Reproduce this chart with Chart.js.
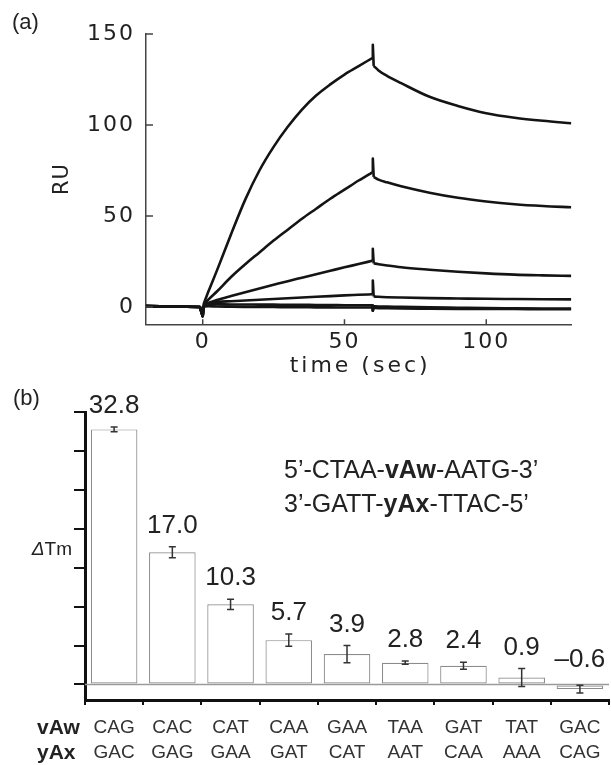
<!DOCTYPE html>
<html>
<head>
<meta charset="utf-8">
<script src="https://cdn.jsdelivr.net/npm/chart.js@4.4.1/dist/chart.umd.min.js"></script>
<style>
    html, body { margin: 0; padding: 0; background: #fff; }
    #wrap { position: relative; width: 611px; height: 765px; overflow: hidden; }
    canvas { position: absolute; left: 0; }
    #sprChart { top: 0; }
    #tmChart { top: 380px; }
</style>
</head>
<body>
<div id="wrap">
    <canvas id="sprChart" width="611" height="380"></canvas>
    <canvas id="tmChart" width="611" height="385"></canvas>
</div>
<script>
// (a) sensorgram - time points shared by every curve
const timeSec = [-20, -10, -1, 0, 0.3, 2, 5, 10, 15, 20, 25, 30, 35, 40, 45, 50, 55, 59.8, 60, 60.3, 62, 65, 70, 80, 90, 100, 110, 120, 130];
const ruCurve1 = [0.5, 0.3, 0, -5, 1.5, 8.5, 20, 40, 59, 75, 88, 99, 108.5, 116.2, 122.3, 127.7, 132.3, 136.8, 144, 132.5, 130, 127, 123, 115.5, 110.5, 106.5, 104, 102.3, 101];
const ruCurve2 = [0.5, 0.3, 0, -5, 0.8, 4, 8.5, 16.5, 23.5, 30, 36.5, 42.5, 48.5, 54, 59.5, 64.5, 69.5, 74, 81.5, 71.5, 70, 68.5, 66.3, 62.8, 60, 58, 56.5, 55.5, 54.8];
const ruCurve3 = [0.5, 0.3, 0, -5, 0.6, 2.2, 3.8, 6, 8.1, 10.2, 12.2, 14.2, 16.1, 18, 19.9, 21.8, 23.6, 25.4, 32, 24, 23.5, 22.8, 21.8, 20.5, 19.4, 18.5, 17.8, 17.4, 17.1];
const ruCurve4 = [0.5, 0.3, 0, -5, 0.5, 2, 2.7, 3.2, 3.6, 4, 4.4, 4.8, 5.2, 5.6, 6, 6.4, 6.7, 7, 14.5, 5.8, 5.6, 5.4, 5.2, 4.9, 4.7, 4.5, 4.4, 4.3, 4.2];
const ruCurve5 = [0.5, 0.3, 0, -5, 0.5, 1.5, 1.5, 1.4, 1.4, 1.3, 1.3, 1.2, 1.2, 1.1, 1.1, 1.0, 1.0, 1.0, -2, 0.4, 0.3, 0.2, 0.1, -0.2, -0.4, -0.6, -0.7, -0.8, -0.9];
const ruCurve6 = [0.5, 0.3, 0, -5, 0.2, 0.4, 0.3, 0.2, 0.1, 0, 0, -0.1, -0.1, -0.2, -0.2, -0.3, -0.3, -0.3, -2, -0.5, -0.6, -0.7, -0.8, -0.9, -1.0, -1.1, -1.1, -1.2, -1.2];
const sprXTicks = [0, 50, 100];
const sprYTicks = [0, 50, 100, 150];

// (b) melting temperature shifts
const vAwCodons = ['CAG', 'CAC', 'CAT', 'CAA', 'GAA', 'TAA', 'GAT', 'TAT', 'GAC'];
const yAxCodons = ['GAC', 'GAG', 'GAA', 'GAT', 'CAT', 'AAT', 'CAA', 'AAA', 'CAG'];
const deltaTm = [32.8, 17.0, 10.3, 5.7, 3.9, 2.8, 2.4, 0.9, -0.6];
const tmError = [0.3, 0.7, 0.65, 0.8, 1.1, 0.2, 0.45, 1.15, 0.5];
const tmYTicks = [0, 5, 10, 15, 20, 25, 30, 35];

const TEXT = '#222';
const SANS = 'Liberation Sans, Arial, sans-serif';
const WIDE = 'DejaVu Sans, sans-serif';

// ---------- panel (a) ----------
const sprDecor = {
    id: 'sprDecor',
    beforeDraw(chart) {
        chart.ctx.letterSpacing = '2px';
    },
    afterDraw(chart) {
        const { ctx, chartArea, scales: { x, y } } = chart;
        ctx.save();
        // inward tick marks
        ctx.strokeStyle = '#444';
        ctx.lineWidth = 1.5;
        ctx.beginPath();
        sprYTicks.forEach(v => {
            const py = y.getPixelForValue(v);
            ctx.moveTo(chartArea.left, py);
            ctx.lineTo(chartArea.left + 7, py);
        });
        sprXTicks.forEach(v => {
            const px = x.getPixelForValue(v);
            ctx.moveTo(px, chartArea.bottom);
            ctx.lineTo(px, chartArea.bottom - 5);
        });
        ctx.stroke();

        ctx.fillStyle = TEXT;
        ctx.letterSpacing = '0px';
        ctx.font = '22px ' + SANS;
        ctx.textAlign = 'left';
        ctx.textBaseline = 'alphabetic';
        ctx.fillText('(a)', 12, 28.5);

        ctx.letterSpacing = '3px';
        ctx.font = '22px ' + WIDE;
        ctx.textAlign = 'center';
        ctx.fillText('time (sec)', (chartArea.left + chartArea.right) / 2 + 1.5, 372);

        ctx.letterSpacing = '1px';
        ctx.font = '21px ' + WIDE;
        ctx.translate(63, 179);
        ctx.rotate(-Math.PI / 2);
        ctx.textBaseline = 'middle';
        ctx.fillText('RU', 0, 0);
        ctx.restore();
        ctx.letterSpacing = '0px';
    }
};

const sprCurves = [ruCurve1, ruCurve2, ruCurve3, ruCurve4, ruCurve5, ruCurve6];
// baseline, association, injection spike, dissociation (index ranges into timeSec)
const sprPhases = [[0, 4, false], [4, 17, true], [17, 19, false], [19, 28, true]];

const sprDatasets = [];
sprCurves.forEach(curve => {
    sprPhases.forEach(([from, to, smooth]) => {
        const pts = [];
        for (let i = from; i <= to; i++) pts.push({ x: timeSec[i], y: curve[i] });
        sprDatasets.push({
            data: pts,
            borderColor: '#141414',
            borderWidth: 2.6,
            borderJoinStyle: 'round',
            pointRadius: 0,
            fill: false,
            cubicInterpolationMode: smooth ? 'monotone' : 'default',
            tension: 0
        });
    });
});

new Chart(document.getElementById('sprChart'), {
    type: 'line',
    data: { datasets: sprDatasets },
    options: {
        responsive: false,
        animation: false,
        events: [],
        layout: { padding: { left: 0, right: 39.7, top: 34, bottom: 0 } },
        plugins: { legend: { display: false }, tooltip: { enabled: false } },
        scales: {
            x: {
                type: 'linear',
                min: -20,
                max: 130,
                grid: { display: false, drawTicks: false },
                border: { display: true, color: '#444', width: 1.5 },
                ticks: { color: TEXT, font: { family: WIDE, size: 22 }, padding: 5, maxRotation: 0 },
                afterBuildTicks(s) { s.ticks = sprXTicks.map(v => ({ value: v })); },
                afterFit(s) { s.height = 55.7; }
            },
            y: {
                min: -9.5,
                max: 150,
                grid: { display: false, drawTicks: false },
                border: { display: true, color: '#444', width: 1.5 },
                ticks: { color: TEXT, font: { family: WIDE, size: 22 }, padding: 11 },
                afterBuildTicks(s) { s.ticks = sprYTicks.map(v => ({ value: v })); },
                afterFit(s) { s.width = 146; }
            }
        }
    },
    plugins: [sprDecor]
});

// ---------- panel (b) ----------
function drawRuns(ctx, x, y, runs, size) {
    let cx = x;
    runs.forEach(([txt, bold]) => {
        ctx.font = (bold ? 'bold ' : '') + size + 'px ' + SANS;
        ctx.fillText(txt, cx, y);
        cx += ctx.measureText(txt).width;
    });
}

const tmDecor = {
    id: 'tmDecor',
    beforeDatasetsDraw(chart) {
        const { ctx, chartArea, scales: { y } } = chart;
        const y0 = y.getPixelForValue(0);
        ctx.save();
        ctx.strokeStyle = '#9a9a9a';
        ctx.lineWidth = 1.5;
        ctx.beginPath();
        ctx.moveTo(chartArea.left, y0);
        ctx.lineTo(chartArea.right, y0);
        ctx.stroke();
        ctx.restore();
    },
    afterDatasetsDraw(chart) {
        const { ctx, scales: { y } } = chart;
        const bars = chart.getDatasetMeta(0).data;
        ctx.save();
        ctx.strokeStyle = '#333';
        ctx.lineWidth = 1.5;
        bars.forEach((bar, i) => {
            const top = y.getPixelForValue(deltaTm[i] + tmError[i]);
            const bot = y.getPixelForValue(deltaTm[i] - tmError[i]);
            ctx.beginPath();
            ctx.moveTo(bar.x, top); ctx.lineTo(bar.x, bot);
            ctx.moveTo(bar.x - 3.5, top); ctx.lineTo(bar.x + 3.5, top);
            ctx.moveTo(bar.x - 3.5, bot); ctx.lineTo(bar.x + 3.5, bot);
            ctx.stroke();
        });
        ctx.fillStyle = TEXT;
        ctx.font = '26px ' + SANS;
        ctx.textAlign = 'center';
        ctx.textBaseline = 'alphabetic';
        bars.forEach((bar, i) => {
            const v = deltaTm[i];
            const label = v < 0 ? '\u2013' + Math.abs(v).toFixed(1) : v.toFixed(1);
            const py = y.getPixelForValue(Math.max(v, 0) + tmError[i]) - 14;
            ctx.fillText(label, bar.x, py);
        });
        ctx.restore();
    },
    afterDraw(chart) {
        const { ctx, scales: { x } } = chart;
        ctx.save();
        ctx.fillStyle = TEXT;
        ctx.textBaseline = 'alphabetic';
        ctx.textAlign = 'left';
        ctx.font = '22px ' + SANS;
        ctx.fillText('(b)', 13, 25.4);

        drawRuns(ctx, 284, 98.3, [['5\u2019-CTAA-', false], ['vAw', true], ['-AATG-3\u2019', false]], 25);
        drawRuns(ctx, 284, 131.7, [['3\u2019-GATT-', false], ['yAx', true], ['-TTAC-5\u2019', false]], 25);

        // delta Tm label
        ctx.textBaseline = 'middle';
        ctx.textAlign = 'right';
        ctx.font = '19px ' + SANS;
        ctx.fillText('Tm', 72, 170);
        const tmW = ctx.measureText('Tm').width;
        ctx.font = 'italic 19px ' + SANS;
        ctx.fillText('\u0394', 72 - tmW, 170);

        // row headers for the codon labels
        const line1 = x.top + 5 + 10.5 + 12.5;
        ctx.textAlign = 'left';
        ctx.font = 'bold 21px ' + SANS;
        ctx.fillText('vAw', 37, line1);
        ctx.fillText('yAx', 37, line1 + 25);
        ctx.restore();
    }
};

new Chart(document.getElementById('tmChart'), {
    type: 'bar',
    data: {
        labels: vAwCodons.map((c, i) => [c, yAxCodons[i]]),
        datasets: [{
            data: deltaTm,
            backgroundColor: '#ffffff',
            borderColor: '#8c8c8c',
            borderWidth: 1.2,
            borderSkipped: false,
            barPercentage: 0.8,
            categoryPercentage: 1
        }]
    },
    options: {
        responsive: false,
        animation: false,
        events: [],
        layout: { padding: { left: 0, right: 0, top: 32.3, bottom: 0 } },
        plugins: { legend: { display: false }, tooltip: { enabled: false } },
        scales: {
            x: {
                grid: { display: true, drawOnChartArea: false, drawTicks: true, tickLength: 5, offset: true, color: '#111', lineWidth: 2 },
                border: { display: true, color: '#111', width: 3 },
                ticks: { color: '#333', font: { family: SANS, size: 19, lineHeight: 1.316 }, padding: 10.5, maxRotation: 0, autoSkip: false },
                afterFit(s) { s.height = 65; }
            },
            y: {
                min: -2,
                max: 35,
                grid: { display: true, drawOnChartArea: false, drawTicks: true, tickLength: 11, color: '#111', lineWidth: 2 },
                border: { display: true, color: '#111', width: 3 },
                ticks: { display: false },
                afterBuildTicks(s) { s.ticks = tmYTicks.map(v => ({ value: v })); },
                afterFit(s) { s.width = 85; }
            }
        }
    },
    plugins: [tmDecor]
});
</script>
</body>
</html>
